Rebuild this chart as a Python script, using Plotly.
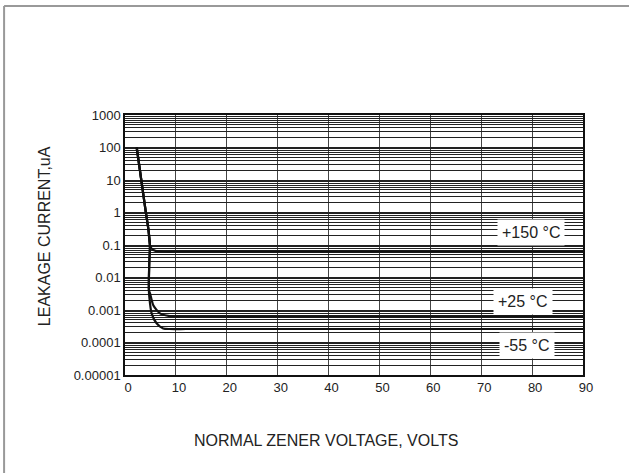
import numpy as np
import plotly.graph_objects as go

# ---- data ----
x_150 = [2.3, 3.2, 4.1, 4.6, 4.9, 5.3, 6.0, 7.5, 10, 30, 60, 90]
y_150 = [100, 10, 1, 0.3, 0.1, 0.075, 0.066, 0.063, 0.063, 0.063, 0.063, 0.063]

x_25 = [2.3, 3.2, 4.1, 4.6, 4.9, 4.78, 4.7, 4.7, 4.9, 5.56, 6.86, 8.8, 12, 30, 60, 90]
y_25 = [100, 10, 1, 0.3, 0.1, 0.03, 0.01, 0.004, 0.0033, 0.0014, 0.00079, 0.00065, 0.00063, 0.00063, 0.00063, 0.00063]

x_m55 = [2.3, 3.2, 4.1, 4.6, 4.9, 4.78, 4.7, 4.7, 4.77, 5.23, 6.2, 7.5, 8.8, 12, 30, 60, 90]
y_m55 = [100, 10, 1, 0.3, 0.1, 0.03, 0.01, 0.004, 0.0026, 0.00079, 0.00039, 0.00027, 0.00026, 0.00026, 0.00026, 0.00026, 0.00026]

series_names = ["+150 °C", "+25 °C", "-55 °C"]
label_x = [79.8, 78.3, 79]
label_y = [0.25, 0.0018, 0.00008]

x_ticks = [0, 10, 20, 30, 40, 50, 60, 70, 80, 90]
y_decades = [1e-5, 1e-4, 1e-3, 1e-2, 1e-1, 1, 10, 100, 1000]
y_decade_text = ["0.00001", "0.0001", "0.001", "0.01", "0.1", "1", "10", "100", "1000"]

# all 1..9 gridline values for log axis
y_grid_vals, y_grid_text = [], []
for d, t in zip(y_decades, y_decade_text):
    if d == 1000:
        y_grid_vals.append(d); y_grid_text.append(t)
        break
    for m in range(1, 10):
        y_grid_vals.append(d * m)
        y_grid_text.append(t if m == 1 else "")

FONT = "Arial, Liberation Sans, sans-serif"
INK = "#222222"

fig = go.Figure()
for xs, ys in [(x_150, y_150), (x_25, y_25), (x_m55, y_m55)]:
    fig.add_trace(go.Scatter(x=xs, y=ys, mode="lines",
                             line=dict(color="#111111", width=2.2, shape="spline", smoothing=0.6),
                             showlegend=False, hoverinfo="skip"))

for name, lx, ly in zip(series_names, label_x, label_y):
    fig.add_annotation(x=lx, y=np.log10(ly), xref="x", yref="y", text=name,
                       showarrow=False, bgcolor="white", borderpad=4,
                       font=dict(family=FONT, size=16, color=INK))

# axis titles
fig.add_annotation(x=-0.197, y=0.535, xref="paper", yref="paper",
                   text="LEAKAGE CURRENT,uA", textangle=-90, showarrow=False,
                   font=dict(family=FONT, size=16, color=INK))
fig.add_annotation(x=0.146, y=-0.292, xref="paper", yref="paper", xanchor="left",
                   text="NORMAL ZENER VOLTAGE, VOLTS", showarrow=False,
                   font=dict(family=FONT, size=16, color=INK))

# outer frame: only left and top edges are visible in the reference
fig.add_shape(type="line", xref="paper", yref="paper",
              x0=-0.264, x1=-0.264, y0=-0.6, y1=1.419,
              line=dict(color="#999999", width=2), layer="below")
fig.add_shape(type="line", xref="paper", yref="paper",
              x0=-0.264, x1=1.4, y0=1.419, y1=1.419,
              line=dict(color="#999999", width=2), layer="below")

fig.update_layout(
    width=629, height=473,
    margin=dict(l=125, r=46, t=115, b=98),
    paper_bgcolor="white", plot_bgcolor="white",
    font=dict(family=FONT, color=INK),
    xaxis=dict(range=[0, 90], tickvals=x_ticks, showgrid=True, gridcolor="#444444",
               gridwidth=1, showline=True, linecolor="#111111", linewidth=1.5, mirror=True,
               zeroline=False, ticks="", ticklabelshift=3, tickfont=dict(size=13, color=INK)),
    yaxis=dict(type="log", range=[-5, 3], tickvals=y_grid_vals, ticktext=y_grid_text,
               showgrid=True, gridcolor="#222222", gridwidth=1, showline=True,
               linecolor="#111111", linewidth=1.5, mirror=True, zeroline=False, ticks="",
               tickfont=dict(size=13, color=INK)),
)

fig.write_html("out.html", config={"displayModeBar": False},
               post_script="document.body.style.margin='0px';")
